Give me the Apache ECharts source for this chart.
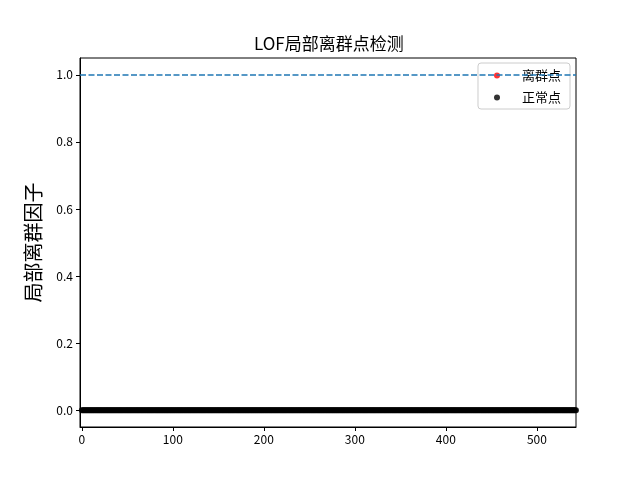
<!DOCTYPE html>
<html>
<head>
<meta charset="utf-8">
<script src="https://cdn.jsdelivr.net/npm/echarts@6/dist/echarts.min.js"></script>
<style>html,body{margin:0;padding:0;background:#fff}#c{width:640px;height:480px}</style>
</head>
<body>
<div id="c"></div>
<script>
const titleText = 'LOF局部离群点检测';
const yLabel = '局部离群因子';
const legendNames = ['离群点', '正常点'];
const thresholdValue = 1.0;
const xTicks = [0, 100, 200, 300, 400, 500];
const yTicks = [0, 0.2, 0.4, 0.6, 0.8, 1.0];
// LOF outlier flag values for samples 0..543 (all normal, read as 0)
const normalScores = [
0,0,0,0,0,0,0,0,0,0,0,0,0,0,0,0,0,0,0,0,0,0,0,0,0,0,0,0,0,0,0,0,
0,0,0,0,0,0,0,0,0,0,0,0,0,0,0,0,0,0,0,0,0,0,0,0,0,0,0,0,0,0,0,0,
0,0,0,0,0,0,0,0,0,0,0,0,0,0,0,0,0,0,0,0,0,0,0,0,0,0,0,0,0,0,0,0,
0,0,0,0,0,0,0,0,0,0,0,0,0,0,0,0,0,0,0,0,0,0,0,0,0,0,0,0,0,0,0,0,
0,0,0,0,0,0,0,0,0,0,0,0,0,0,0,0,0,0,0,0,0,0,0,0,0,0,0,0,0,0,0,0,
0,0,0,0,0,0,0,0,0,0,0,0,0,0,0,0,0,0,0,0,0,0,0,0,0,0,0,0,0,0,0,0,
0,0,0,0,0,0,0,0,0,0,0,0,0,0,0,0,0,0,0,0,0,0,0,0,0,0,0,0,0,0,0,0,
0,0,0,0,0,0,0,0,0,0,0,0,0,0,0,0,0,0,0,0,0,0,0,0,0,0,0,0,0,0,0,0,
0,0,0,0,0,0,0,0,0,0,0,0,0,0,0,0,0,0,0,0,0,0,0,0,0,0,0,0,0,0,0,0,
0,0,0,0,0,0,0,0,0,0,0,0,0,0,0,0,0,0,0,0,0,0,0,0,0,0,0,0,0,0,0,0,
0,0,0,0,0,0,0,0,0,0,0,0,0,0,0,0,0,0,0,0,0,0,0,0,0,0,0,0,0,0,0,0,
0,0,0,0,0,0,0,0,0,0,0,0,0,0,0,0,0,0,0,0,0,0,0,0,0,0,0,0,0,0,0,0,
0,0,0,0,0,0,0,0,0,0,0,0,0,0,0,0,0,0,0,0,0,0,0,0,0,0,0,0,0,0,0,0,
0,0,0,0,0,0,0,0,0,0,0,0,0,0,0,0,0,0,0,0,0,0,0,0,0,0,0,0,0,0,0,0,
0,0,0,0,0,0,0,0,0,0,0,0,0,0,0,0,0,0,0,0,0,0,0,0,0,0,0,0,0,0,0,0,
0,0,0,0,0,0,0,0,0,0,0,0,0,0,0,0,0,0,0,0,0,0,0,0,0,0,0,0,0,0,0,0,
0,0,0,0,0,0,0,0,0,0,0,0,0,0,0,0,0,0,0,0,0,0,0,0,0,0,0,0,0,0,0,0
];
const outlierPoints = [];

const normalPoints = normalScores.map((v, i) => [i, v]);
const FONT = '"Noto Sans CJK SC", "DejaVu Sans", sans-serif';

const chart = echarts.init(document.getElementById('c'), null, {renderer: 'canvas'});
chart.setOption({
  animation: false,
  backgroundColor: '#fff',
  title: {
    text: titleText,
    left: 249, top: 30,
    textStyle: {fontFamily: FONT, fontSize: 17, fontWeight: 'normal', color: '#000'}
  },
  grid: {left: 80, right: 64, top: 58, bottom: 53, show: true, borderColor: '#000', borderWidth: 1, backgroundColor: 'transparent'},
  legend: {
    orient: 'vertical', right: 70, top: 63,
    data: legendNames.map(n => ({name: n, icon: 'circle'})),
    itemWidth: 40, itemHeight: 6, itemGap: 9,
    textStyle: {fontFamily: FONT, fontSize: 13, color: '#000'},
    backgroundColor: 'rgba(255,255,255,0.8)', borderColor: '#ccc', borderWidth: 1, borderRadius: 3,
    padding: [6, 9, 5, 16]
  },
  xAxis: {
    type: 'value', min: -2, max: 543,
    splitLine: {show: false},
    axisLine: {show: true, onZero: false, lineStyle: {color: '#000'}},
    axisTick: {show: true, length: 4, inside: false, customValues: xTicks, lineStyle: {color: '#000'}},
    axisLabel: {customValues: xTicks, margin: 6, fontFamily: FONT, fontSize: 12, color: '#000'}
  },
  yAxis: {
    type: 'value', min: -0.05, max: 1.05,
    name: yLabel, nameLocation: 'middle', nameGap: 37, nameRotate: 90,
    nameTextStyle: {fontFamily: FONT, fontSize: 20, color: '#000'},
    splitLine: {show: false},
    axisLine: {show: true, onZero: false, lineStyle: {color: '#000'}},
    axisTick: {show: true, length: 4, customValues: yTicks, lineStyle: {color: '#000'}},
    axisLabel: {customValues: yTicks, margin: 7, fontFamily: FONT, fontSize: 12, color: '#000',
      formatter: v => v.toFixed(1)}
  },
  series: [
    {
      name: legendNames[0], type: 'scatter', data: outlierPoints, symbolSize: 6,
      itemStyle: {color: '#ff0000'}, z: 3
    },
    {
      name: legendNames[1], type: 'scatter', data: normalPoints, symbolSize: 6,
      itemStyle: {color: '#000000'}, clip: true, z: 3,
      markLine: {
        silent: true, symbol: 'none', label: {show: false},
        lineStyle: {color: '#1f77b4', type: [6, 2.5], width: 1.5},
        data: [{yAxis: thresholdValue}]
      }
    }
  ]
});
</script>
</body>
</html>
